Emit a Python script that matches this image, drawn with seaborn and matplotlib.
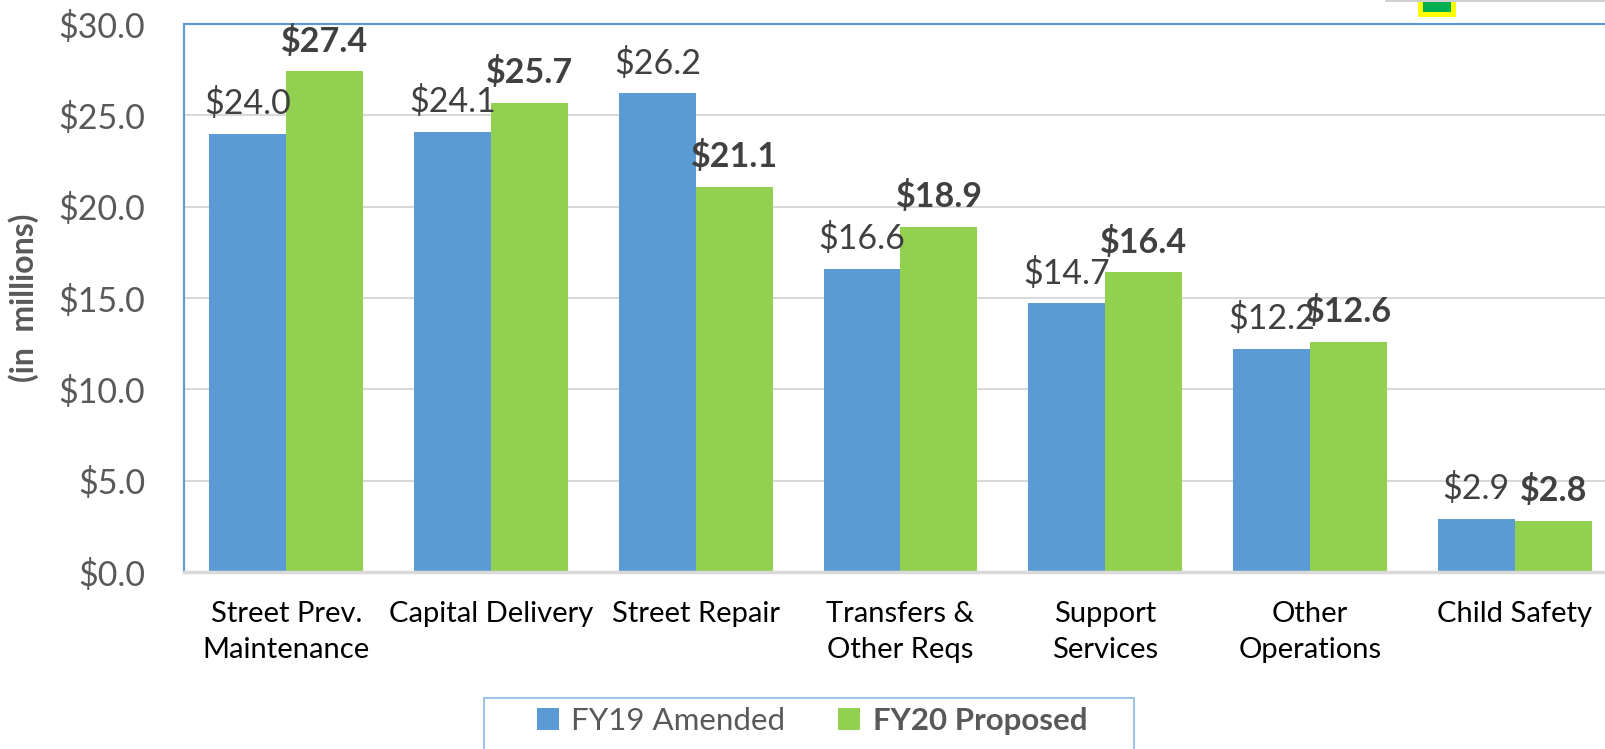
import matplotlib
matplotlib.use("Agg")
import matplotlib.pyplot as plt
import seaborn as sns
import pandas as pd
from matplotlib.patches import Rectangle, Patch
from matplotlib.lines import Line2D

categories = ["Street Prev.\nMaintenance", "Capital Delivery", "Street Repair",
              "Transfers &\nOther Reqs", "Support\nServices", "Other\nOperations",
              "Child Safety"]
fy19 = [24.0, 24.1, 26.2, 16.6, 14.7, 12.2, 2.9]
fy20 = [27.4, 25.7, 21.1, 18.9, 16.4, 12.6, 2.8]
series = ["FY19 Amended", "FY20 Proposed"]
yticks = [0, 5, 10, 15, 20, 25, 30]

BLUE = "#5B9BD5"
GREEN = "#92D050"

df = pd.DataFrame({
    "category": categories * 2,
    "value": fy19 + fy20,
    "series": [series[0]] * len(categories) + [series[1]] * len(categories),
})

sns.set_theme(style="white")
plt.rcParams["font.family"] = ["Lato", "DejaVu Sans"]

W, H = 1606, 749
fig = plt.figure(figsize=(W / 100, H / 100), dpi=100)
ax = fig.add_axes([184 / W, 1 - 572 / H, 1433 / W, (572 - 24) / H])

sns.barplot(data=df, x="category", y="value", hue="series", order=categories,
            hue_order=series, palette=[BLUE, GREEN], width=0.752, gap=0,
            linewidth=0, saturation=1, ax=ax, legend=False)

ax.set_xlim(-0.5, 6.5)
ax.set_ylim(0, 30)
ax.set_yticks(yticks)
ax.set_yticklabels([f"${v:.1f}" for v in yticks], color="#595959", fontsize=24.5)
ax.tick_params(axis="y", length=0, pad=28)
ax.set_xticks(range(len(categories)))
ax.set_xticklabels(categories, fontsize=21, linespacing=1.45, color="#000000")
ax.tick_params(axis="x", length=0, pad=21)
ax.set_xlabel("")
ax.set_ylabel("(in  millions)", fontsize=23, fontweight="bold", color="#595959")
ax.yaxis.set_label_coords(-0.101, 0.5)

ax.grid(axis="y", color="#D9D9D9", linewidth=1.5)
ax.set_axisbelow(True)
for s in ["left", "top"]:
    ax.spines[s].set_color(BLUE)
    ax.spines[s].set_linewidth(1.5)
ax.spines["right"].set_visible(False)
ax.spines["bottom"].set_color("#D9D9D9")
ax.spines["bottom"].set_linewidth(2.5)

c19, c20 = ax.containers[0], ax.containers[1]
ax.bar_label(c19, labels=[f"${v:.1f}" for v in fy19], padding=10,
             fontsize=24.5, color="#404040")
ax.bar_label(c20, labels=[f"${v:.1f}" for v in fy20], padding=10,
             fontsize=24.5, color="#404040", fontweight="bold")

# legend frame (extends past the bottom edge, as in the reference)
fig.add_artist(Rectangle((484 / W, -20 / H), 650 / W, (749 - 698 + 20) / H,
                         facecolor="white", edgecolor="#9DC3E6", linewidth=1.5,
                         transform=fig.transFigure))
handles = [Patch(facecolor=BLUE, edgecolor="none"), Patch(facecolor=GREEN, edgecolor="none")]
leg = fig.legend(handles, series, loc="center",
                 bbox_to_anchor=(812 / W, 1 - 721 / H), ncol=2, fontsize=22.5,
                 frameon=False, handlelength=0.7, handleheight=0.7,
                 handletextpad=0.4, columnspacing=1.7, borderaxespad=0)
texts = leg.get_texts()
texts[0].set_color("#595959")
texts[1].set_color("#595959")
texts[1].set_fontweight("bold")

# stray artifact at top right
fig.add_artist(Line2D([1386 / W, 1], [1 - 1 / H, 1 - 1 / H], color="#D0D0D0",
                      linewidth=1.5, transform=fig.transFigure))
fig.add_artist(Rectangle((1418 / W, 1 - 17 / H), 38 / W, 17 / H, facecolor="#FFFF00",
                         edgecolor="none", transform=fig.transFigure))
fig.add_artist(Rectangle((1423 / W, 1 - 12 / H), 28 / W, 12 / H, facecolor="#00B050",
                         edgecolor="none", transform=fig.transFigure))

fig.savefig("out.png", dpi=100)
